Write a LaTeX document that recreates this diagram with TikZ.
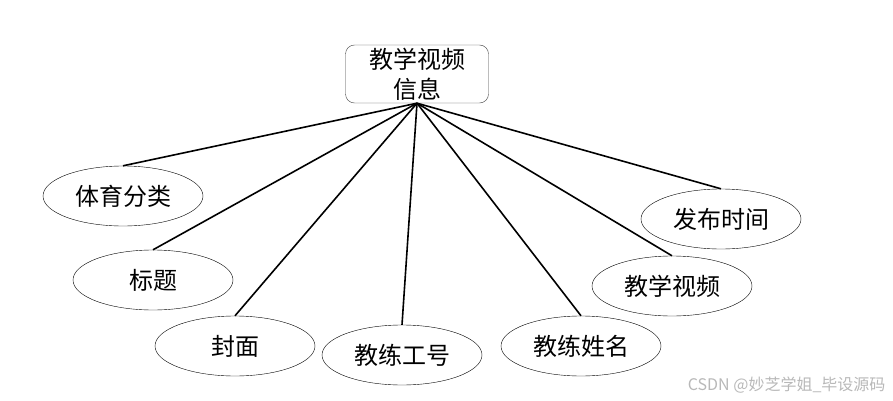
\documentclass[tikz,border=0pt]{standalone}
\usepackage{fontspec}
\newfontfamily\cjk{Noto Sans CJK SC}
\usetikzlibrary{shapes.geometric}

\begin{document}
\begin{tikzpicture}[
  x=1pt, y=-1pt,
  every node/.style={font=\cjk\fontsize{24}{30}\selectfont},
  entity/.style={rounded corners=9pt, draw=black!75, thin, align=center, minimum width=143pt, minimum height=58pt, inner sep=0pt},
  attr/.style={ellipse, draw, thin, minimum width=160pt, minimum height=60pt, inner sep=0pt},
  link/.style={line width=1.6pt}
]
\useasboundingbox (0,0) rectangle (893,401);
\node[entity] (video) at (417,74) {教学视频\\信息};
% attributes
\node[attr] (cat) at (123,196) {体育分类};
\node[attr] (title) at (153,280) {标题};
\node[attr] (cover) at (235,346) {封面};
\node[attr] (coachid) at (402,355) {教练工号};
\node[attr] (coachname) at (581,346) {教练姓名};
\node[attr] (clip) at (672,286) {教学视频};
\node[attr] (pubtime) at (721,219) {发布时间};
\foreach \a in {cat,title,cover,coachid,coachname,clip,pubtime}
  \draw[link] (video.south) -- (\a.north);
\node[font=\cjk\fontsize{16}{18}\selectfont, text=black!28, anchor=east] (mark) at (889,385) {CSDN @妙芝学姐\_毕设源码};
\end{tikzpicture}
\end{document}
